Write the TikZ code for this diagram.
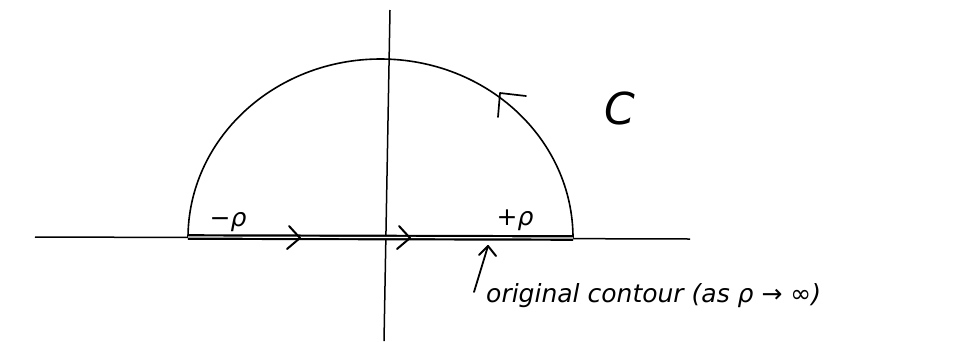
\documentclass[tikz,border=0pt]{standalone}
\usepackage{fontspec}
\setmainfont{DejaVu Sans}
\usetikzlibrary{calc}
\begin{document}
\begin{tikzpicture}[x=1pt,y=-1pt,
  axis/.style={line width=1.5pt,black},
  chev/.style={line width=2pt,line cap=round,line join=round},
  lbl/.style={font=\fontsize{25}{27}\selectfont\itshape,inner sep=0pt}]
\useasboundingbox (0,0) rectangle (957,341);
% axes
\coordinate (xl) at (35,237);
\coordinate (xr) at (690,239);
\coordinate (yt) at (390,10);
\coordinate (yb) at (384,341);
\draw[axis] (xl) -- (xr);
\draw[axis] (yt) -- (yb);
% contour ends
\coordinate (L) at (188,237);
\coordinate (R) at (573,238);
% semicircle
\draw[line width=1.6pt] (R) arc[start angle=0,end angle=-180,x radius=192.5,y radius=179];
% double segment
\draw[line width=2.2pt,double distance=1.2pt] (L) -- (R);
% chevrons on real axis
\coordinate (a1) at (300,238);
\coordinate (a2) at (410,238);
\draw[chev] ($(a1)+(-11,-12)$) -- (a1) -- ($(a1)+(-13,11)$);
\draw[chev] ($(a2)+(-11,-12)$) -- (a2) -- ($(a2)+(-13,11)$);
% arrow on the arc
\coordinate (aa) at (500,93);
\draw[chev,line width=1.7pt] (526,96) -- (aa) -- (498,117);
% labels
\node[lbl] (C) at (620,108) {\fontsize{44}{44}\selectfont\itshape C};
\node[lbl] (mr) at (228,222) {−ρ};
\node[lbl] (pr) at (515,220) {+ρ};
\node[lbl,anchor=west] (orig) at (486,296) {original contour (as ρ → ∞)};
% pointer arrow
\coordinate (pt) at (488,246);
\coordinate (ps) at (474,292);
\draw[line width=1.8pt,line cap=round] (ps) -- (pt);
\draw[chev] ($(pt)+(-9,9)$) -- (pt) -- ($(pt)+(8,10)$);
\end{tikzpicture}
\end{document}
